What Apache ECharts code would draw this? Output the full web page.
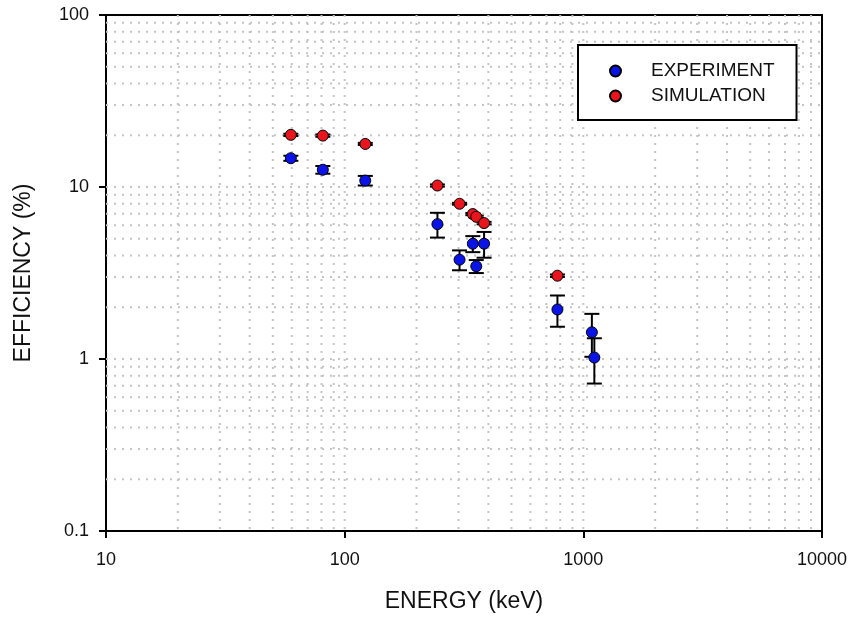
<!DOCTYPE html>
<html>
<head>
<meta charset="utf-8">
<script src="https://cdn.jsdelivr.net/npm/echarts@6/dist/echarts.min.js"></script>
<style>
  html, body { margin: 0; padding: 0; background: #fff; }
  #chart { width: 853px; height: 618px; }
</style>
</head>
<body>
<div id="chart"></div>
<script>
// Energies (keV) of the measured lines
const expEnergy = [59.5, 81, 122, 244.7, 302.9, 344.3, 356, 383.8, 778.9, 1085.8, 1112.1];
// Measured efficiency (%) and its uncertainty
const expEff = [14.7, 12.6, 10.9, 6.08, 3.78, 4.68, 3.46, 4.68, 1.94, 1.43, 1.02];
const expErr = [0.5, 0.65, 0.7, 1.0, 0.5, 0.5, 0.3, 0.8, 0.4, 0.4, 0.3];

// Simulated efficiency (%) at the same lines
const simEnergy = [59.5, 81, 122, 244.7, 302.9, 344.3, 356, 383.8, 778.9];
const simEff = [20.1, 19.9, 17.8, 10.2, 7.99, 6.96, 6.71, 6.17, 3.05];
const simErr = [0.3, 0.3, 0.25, 0.15, 0.1, 0.1, 0.1, 0.1, 0.05];

// Dotted grid positions (every 1..9 step of each decade)
const gridX = [20, 30, 40, 50, 60, 70, 80, 90, 100, 200, 300, 400, 500, 600, 700, 800, 900,
               1000, 2000, 3000, 4000, 5000, 6000, 7000, 8000, 9000];
const gridY = [0.2, 0.3, 0.4, 0.5, 0.6, 0.7, 0.8, 0.9, 1, 2, 3, 4, 5, 6, 7, 8, 9,
               10, 20, 30, 40, 50, 60, 70, 80, 90];

const FONT = '"Liberation Sans", Arial, sans-serif';
const BLUE = '#0a14e6';
const RED = '#e8161c';

const gridStyle = { stroke: '#c4c4c4', lineWidth: 2, lineDash: [2, 6] };

function errorBars(params, api) {
  const x = api.value(0), y = api.value(1), e = api.value(2);
  const top = api.coord([x, y + e]);
  const bot = api.coord([x, y - e]);
  const hw = 7.5;
  const st = { stroke: '#000', lineWidth: 2 };
  return {
    type: 'group',
    children: [
      { type: 'line', shape: { x1: top[0], y1: top[1], x2: bot[0], y2: bot[1] }, style: st },
      { type: 'line', shape: { x1: top[0] - hw, y1: top[1], x2: top[0] + hw, y2: top[1] }, style: st },
      { type: 'line', shape: { x1: bot[0] - hw, y1: bot[1], x2: bot[0] + hw, y2: bot[1] }, style: st }
    ]
  };
}

// plain numbers on the log axes (no thousands separators)
const plain = v => String(Number(v.toPrecision(6)));

const chart = echarts.init(document.getElementById('chart'), null, { renderer: 'canvas' });

chart.setOption({
  animation: false,
  backgroundColor: '#fff',
  textStyle: { fontFamily: FONT },
  grid: {
    left: 106, right: 31, top: 15, bottom: 86,
    show: true, borderColor: '#000', borderWidth: 2, backgroundColor: 'transparent'
  },
  legend: {
    data: ['EXPERIMENT', 'SIMULATION'],
    orient: 'vertical',
    left: 578, top: 45,
    padding: [16, 22, 14, 31],
    itemWidth: 11, itemHeight: 11,
    itemGap: 5,
    backgroundColor: '#fff',
    borderColor: '#000', borderWidth: 2, borderRadius: 0,
    textStyle: { fontFamily: FONT, fontSize: 19, color: '#111', lineHeight: 20, padding: [0, 0, 0, 25] }
  },
  xAxis: {
    type: 'log', logBase: 10, min: 10, max: 10000,
    name: 'ENERGY (keV)', nameLocation: 'middle', nameGap: 59,
    nameTextStyle: { fontFamily: FONT, fontSize: 23, color: '#111' },
    axisLine: { onZero: false, lineStyle: { color: '#000', width: 2 } },
    axisTick: { show: true, inside: false, length: 7, lineStyle: { color: '#000', width: 2 } },
    axisLabel: { fontFamily: FONT, fontSize: 18, color: '#111', margin: 20, formatter: plain },
    splitLine: { show: false },
    minorTick: { show: false }
  },
  yAxis: {
    type: 'log', logBase: 10, min: 0.1, max: 100,
    name: 'EFFICIENCY (%)', nameLocation: 'middle', nameGap: 71, nameRotate: 90,
    nameTextStyle: { fontFamily: FONT, fontSize: 23, color: '#111' },
    axisLine: { onZero: false, lineStyle: { color: '#000', width: 2 } },
    axisTick: { show: true, inside: false, length: 7, lineStyle: { color: '#000', width: 2 } },
    axisLabel: { fontFamily: FONT, fontSize: 18, color: '#111', margin: 17, formatter: plain },
    splitLine: { show: false },
    minorTick: { show: false }
  },
  series: [
    {
      name: 'gridX', type: 'custom', z: 1, silent: true,
      data: gridX.map(v => [v, 1]),
      renderItem: function (params, api) {
        const p = api.coord([api.value(0), 1]);
        const cs = params.coordSys;
        return { type: 'line', shape: { x1: p[0], y1: cs.y, x2: p[0], y2: cs.y + cs.height }, style: gridStyle };
      }
    },
    {
      name: 'gridY', type: 'custom', z: 1, silent: true,
      data: gridY.map(v => [10, v]),
      renderItem: function (params, api) {
        const p = api.coord([10, api.value(1)]);
        const cs = params.coordSys;
        return { type: 'line', shape: { x1: cs.x, y1: p[1], x2: cs.x + cs.width, y2: p[1] }, style: gridStyle };
      }
    },
    {
      name: 'expErr', type: 'custom', z: 3, silent: true,
      data: expEnergy.map((x, i) => [x, expEff[i], expErr[i]]),
      encode: { x: 0, y: 1 },
      renderItem: errorBars
    },
    {
      name: 'simErr', type: 'custom', z: 3, silent: true,
      data: simEnergy.map((x, i) => [x, simEff[i], simErr[i]]),
      encode: { x: 0, y: 1 },
      renderItem: errorBars
    },
    {
      name: 'EXPERIMENT', type: 'scatter', z: 5,
      symbol: 'circle', symbolSize: 11,
      itemStyle: { color: BLUE, borderColor: '#000', borderWidth: 1, opacity: 1 },
      data: expEnergy.map((x, i) => [x, expEff[i]])
    },
    {
      name: 'SIMULATION', type: 'scatter', z: 5,
      symbol: 'circle', symbolSize: 11,
      itemStyle: { color: RED, borderColor: '#000', borderWidth: 1, opacity: 1 },
      data: simEnergy.map((x, i) => [x, simEff[i]])
    }
  ]
});
</script>
</body>
</html>
